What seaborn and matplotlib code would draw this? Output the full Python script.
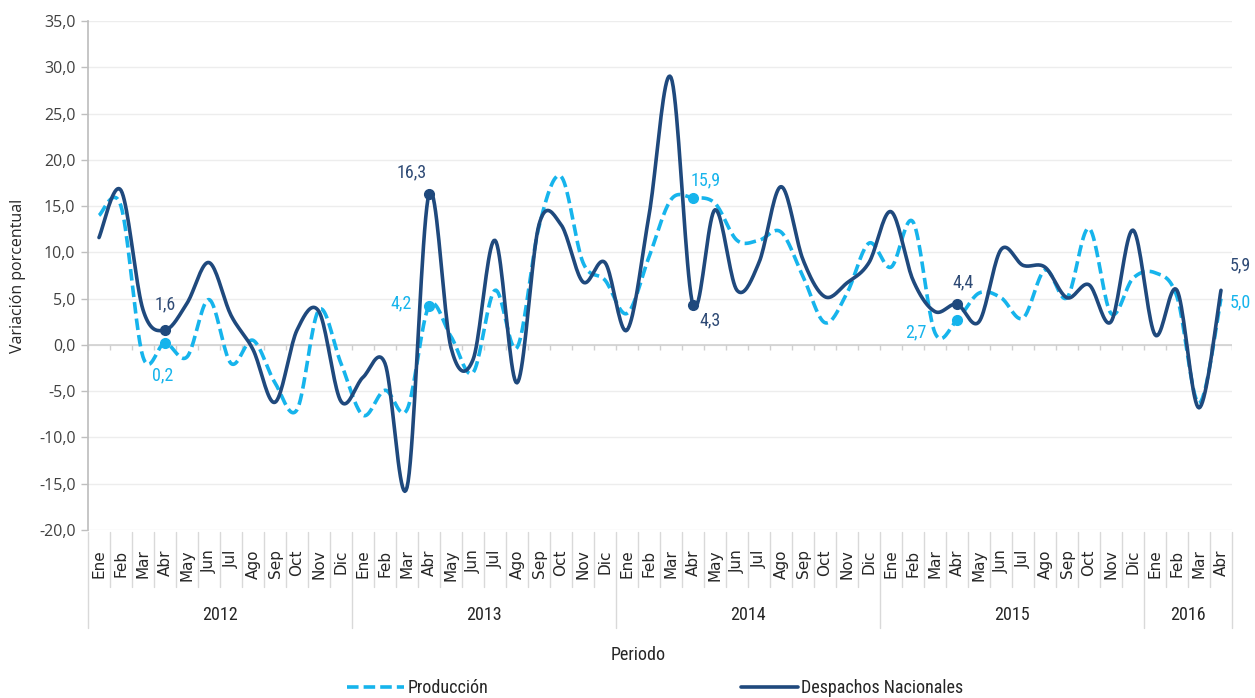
import matplotlib
matplotlib.use("Agg")
import matplotlib.pyplot as plt
import numpy as np
import pandas as pd
import seaborn as sns
from matplotlib import font_manager

MONTHS = ["Ene", "Feb", "Mar", "Abr", "May", "Jun", "Jul", "Ago", "Sep", "Oct", "Nov", "Dic"]
YEARS = ["2012", "2013", "2014", "2015", "2016"]
MONTH_LABELS = MONTHS * 4 + MONTHS[:4]
YEAR_SPANS = [12, 12, 12, 12, 4]

produccion = [
    14.0, 15.0, -1.3, 0.2, -1.3, 4.9, -2.0, 0.5, -4.1, -7.0, 3.8, -2.0,
    -7.6, -4.9, -7.0, 4.2, 0.9, -3.0, 5.9, -0.3, 12.8, 18.2, 8.9, 7.0,
    3.4, 9.5, 15.7, 15.9, 15.3, 11.3, 11.3, 12.2, 7.4, 2.4, 5.6, 11.0,
    8.4, 13.3, 1.3, 2.7, 5.6, 5.1, 2.9, 8.1, 5.1, 12.6, 3.4, 7.2,
    7.8, 5.2, -6.3, 5.0,
]
despachos = [
    11.6, 16.7, 3.8, 1.6, 4.5, 8.9, 3.2, -0.5, -6.2, 1.6, 3.6, -6.1,
    -3.5, -2.0, -15.4, 16.3, -0.3, -1.6, 11.3, -4.1, 13.0, 13.0, 6.8, 8.9,
    1.6, 14.0, 28.9, 4.3, 14.6, 5.9, 8.9, 17.1, 9.2, 5.2, 6.7, 8.9,
    14.4, 7.0, 3.6, 4.4, 2.5, 10.3, 8.6, 8.4, 5.1, 6.5, 2.5, 12.4,
    1.1, 5.9, -6.8, 5.9,
]

# labelled points: (index, text, offset in pixels)
LABELS_DESP = [(3, "1,6", (0, 26)), (15, "16,3", (-17, 22)), (27, "4,3", (17, -15)),
               (39, "4,4", (6, 22)), (51, "5,9", (19, 25))]
LABELS_PROD = [(3, "0,2", (-2, -32)), (15, "4,2", (-28, 3)), (27, "15,9", (13, 17)),
               (39, "2,7", (-41, -12)), (51, "5,0", (19, -4))]

DARK = "#1F497D"
LIGHT = "#16B4EC"


def pick_font(names):
    avail = {f.name for f in font_manager.fontManager.ttflist}
    for n in names:
        if n in avail:
            return n
    return "DejaVu Sans"


def smooth(x, y, n=20):
    # Excel-style smoothed line (Catmull-Rom Bezier)
    p = np.column_stack([x, y]).astype(float)
    pts = np.vstack([p[0], p, p[-1]])
    t = np.linspace(0, 1, n, endpoint=False)[:, None]
    out = []
    for i in range(1, len(pts) - 2):
        p0, p1, p2, p3 = pts[i - 1], pts[i], pts[i + 1], pts[i + 2]
        c1 = p1 + (p2 - p0) / 6
        c2 = p2 - (p3 - p1) / 6
        seg = (1 - t) ** 3 * p1 + 3 * (1 - t) ** 2 * t * c1 + 3 * (1 - t) * t ** 2 * c2 + t ** 3 * p2
        out.append(seg)
    out.append(p[-1][None, :])
    out = np.vstack(out)
    return out[:, 0], out[:, 1]


sns.set_theme(style="white")
narrow = pick_font(["Liberation Sans Narrow", "Roboto Condensed", "Open Sans"])
regular = pick_font(["Open Sans", "Noto Sans", "DejaVu Sans"])
plt.rcParams["font.family"] = [regular, "DejaVu Sans"]

fig = plt.figure(figsize=(12.55, 6.98), dpi=100)
ax = fig.add_axes([88 / 1255, 1 - 530 / 698, (1232 - 88) / 1255, (530 - 21) / 698])

x = np.arange(len(despachos))
df = pd.DataFrame({"idx": x, "Producción": produccion, "Despachos Nacionales": despachos})

sx, sy = smooth(df["idx"], df["Producción"])
sns.lineplot(x=sx, y=sy, sort=False, ax=ax, color=LIGHT, linewidth=2.6,
             linestyle=(0, (3.2, 1.4)), label="Producción")
sx, sy = smooth(df["idx"], df["Despachos Nacionales"])
sns.lineplot(x=sx, y=sy, sort=False, ax=ax, color=DARK, linewidth=2.6,
             label="Despachos Nacionales")

for i, txt, off in LABELS_PROD:
    if i < len(x) - 1:
        ax.plot(i, produccion[i], "o", color=LIGHT, markersize=7, zorder=5)
    ax.annotate(txt, (i, produccion[i]), xytext=off, textcoords="offset pixels",
                ha="center", va="center", color=LIGHT, fontsize=13, family=narrow,
                annotation_clip=False)
for i, txt, off in LABELS_DESP:
    if i < len(x) - 1:
        ax.plot(i, despachos[i], "o", color=DARK, markersize=7, zorder=5)
    ax.annotate(txt, (i, despachos[i]), xytext=off, textcoords="offset pixels",
                ha="center", va="center", color="#2E4A75", fontsize=13, family=narrow,
                annotation_clip=False)

ax.set_xlim(-0.5, len(x) - 0.5)
ax.set_ylim(-20, 35)
yt = np.arange(-20, 36, 5)
ax.set_yticks(yt)
ax.set_yticklabels([f"{v:.1f}".replace(".", ",") for v in yt], fontsize=11.5, color="#404040")
ax.yaxis.grid(True, color="#EDEDED", linewidth=1)
ax.set_axisbelow(True)
for s in ["top", "right", "bottom"]:
    ax.spines[s].set_visible(False)
ax.spines["left"].set_color("#BFBFBF")
ax.tick_params(axis="y", length=5, color="#BFBFBF", width=1, pad=4, left=True)

# zero axis line with category tick marks
ax.axhline(0, color="#D0D0D0", linewidth=1.2, zorder=1)
bounds = np.arange(-0.5, len(x), 1)
ax.vlines(bounds, -0.6, 0, color="#D0D0D0", linewidth=1, zorder=1)

# month labels and separators below the plot
ax.set_xticks(x)
ax.set_xticklabels(MONTH_LABELS, rotation=90, fontsize=11, color="#262626", family="DejaVu Sans")
ax.tick_params(axis="x", length=0, pad=14)
trans = ax.get_xaxis_transform()
year_edges = np.cumsum([0] + YEAR_SPANS) - 0.5
for b in bounds:
    low = -0.193 if b in year_edges else -0.112
    ax.plot([b, b], [-0.004, low], color="#D9D9D9", linewidth=1, transform=trans, clip_on=False)
for k, yr in enumerate(YEARS):
    mid = (year_edges[k] + year_edges[k + 1]) / 2
    ax.text(mid, -0.167, yr, transform=trans, ha="center", va="center",
            fontsize=13, family=narrow, color="#262626")

ax.set_xlabel("")
fig.text(638 / 1255, 1 - 655 / 698, "Periodo", ha="center", va="center",
         fontsize=13, family=narrow, color="#262626")
ax.set_ylabel("Variación porcentual", fontsize=11.5, color="#262626")
ax.yaxis.set_label_coords(-0.054, 0.5)

handles, labels = ax.get_legend_handles_labels()
ax.get_legend().remove()
fig.legend(handles, labels, loc="center", bbox_to_anchor=(655 / 1255, 1 - 688 / 698), ncol=2,
           frameon=False, handlelength=3.2, handletextpad=0.15, columnspacing=14.0,
           prop={"family": narrow, "size": 13})

fig.savefig("out.png", dpi=100)
